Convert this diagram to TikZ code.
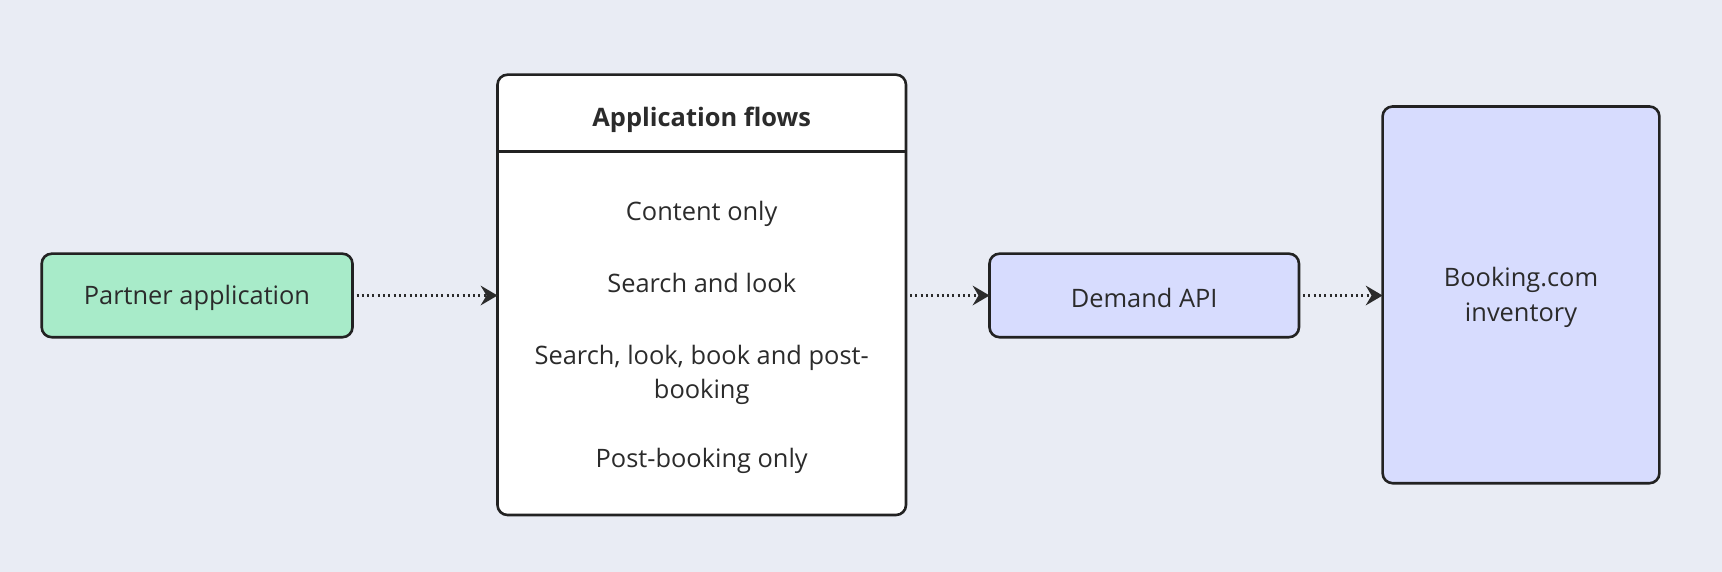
\documentclass[tikz,border=0pt]{standalone}
\usepackage{fontspec}
\setmainfont{Open Sans}
\usetikzlibrary{arrows.meta}
\definecolor{bg}{HTML}{E9ECF4}
\definecolor{edge}{HTML}{222222}
\definecolor{txt}{HTML}{2B2B2B}
\definecolor{greenfill}{HTML}{A8EBC9}
\definecolor{bluefill}{HTML}{D7DCFE}
\tikzset{
  box/.style={draw=edge, line width=2.6pt, rounded corners=10pt, inner sep=0pt},
  lbl/.style={text=txt, font=\fontsize{25.4}{34.5}\selectfont, align=center},
  flow/.style={draw=txt, line width=2.2pt, dash pattern=on 2pt off 3.3pt, -{Stealth[length=17pt,width=20pt,inset=6pt,line width=0pt]}, shorten <=4pt},
}
\begin{document}
\begin{tikzpicture}[x=1pt,y=-1pt]
\fill[bg] (0,0) rectangle (1722,572);
\useasboundingbox (0,0) rectangle (1722,572);
% boxes
\draw[box, fill=greenfill] (41.7,253.7) rectangle (352.5,337.2);
\node[lbl] (pa) at (197,298) {Partner application};
\coordinate (paR) at (352.5,295.5);

\draw[box, fill=white] (497.5,74.7) rectangle (906,515);
\draw[edge, line width=2.6pt] (497.5,151.6) -- (906,151.6);
\node[lbl, font=\fontsize{25.4}{34.5}\selectfont\bfseries] (hdr) at (701.7,119.4) {Application flows};
\node[lbl] (f1) at (701.7,213.9) {Content only};
\node[lbl] (f2) at (701.7,283) {Search and look};
\node[lbl] (f3) at (701.7,374.8) {Search, look, book and post-\\booking};
\node[lbl] (f4) at (701.7,460.9) {Post-booking only};
\coordinate (afL) at (497.5,295.5);
\coordinate (afR) at (906,295.5);

\draw[box, fill=bluefill] (989.5,253.7) rectangle (1299,337.2);
\node[lbl] (api) at (1144.2,298) {Demand API};
\coordinate (apiL) at (989.5,295.5);
\coordinate (apiR) at (1299,295.5);

\draw[box, fill=bluefill] (1382.6,106.5) rectangle (1659.4,483.2);
\node[lbl] (inv) at (1521,297.5) {Booking.com\\inventory};
\coordinate (invL) at (1382.6,295.5);

% connectors
\draw[flow] (paR) -- (afL);
\draw[flow] (afR) -- (apiL);
\draw[flow] (apiR) -- (invL);
\end{tikzpicture}
\end{document}
